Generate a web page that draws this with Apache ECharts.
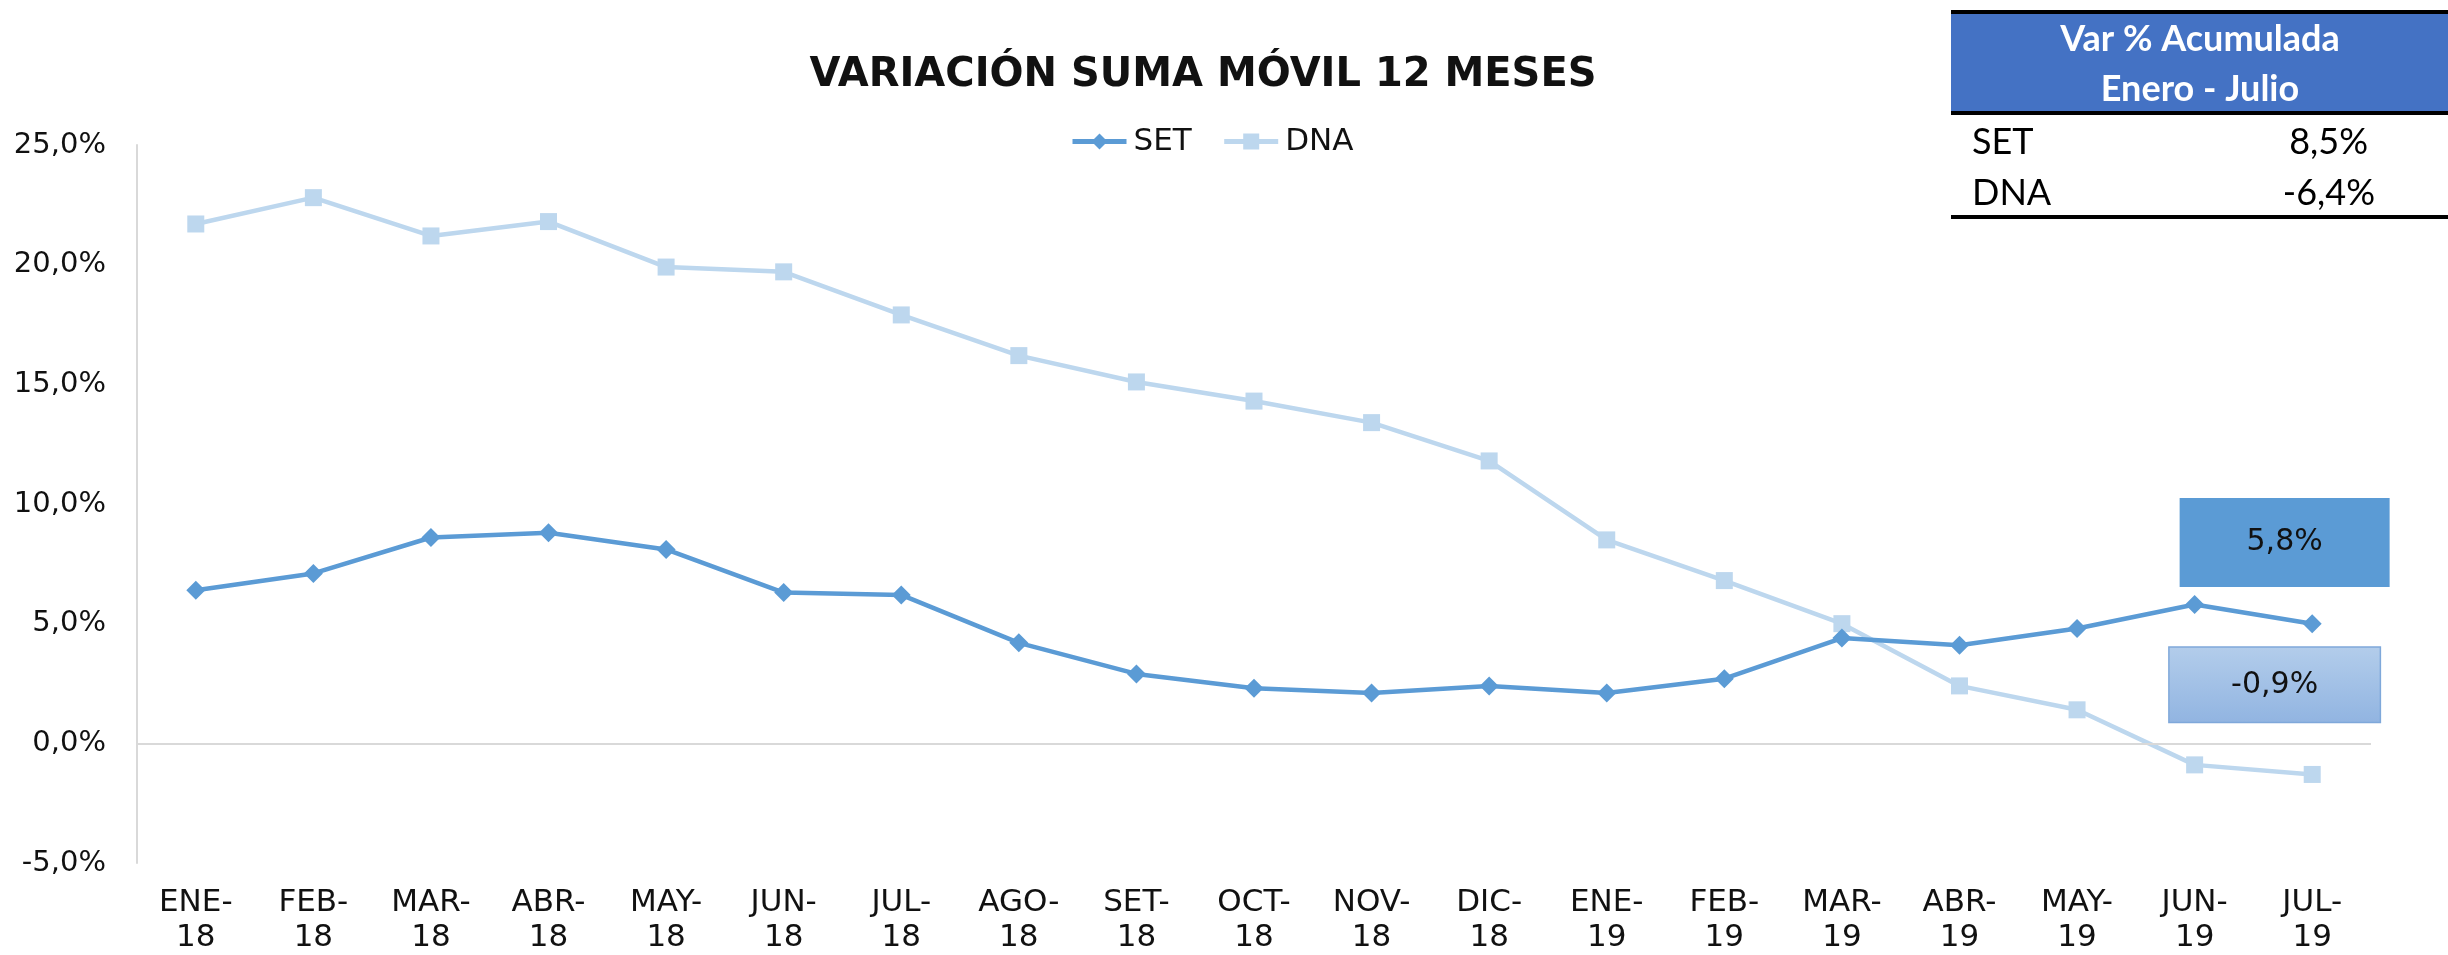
<!DOCTYPE html>
<html>
<head>
<meta charset="utf-8">
<script src="https://cdn.jsdelivr.net/npm/echarts@6/dist/echarts.min.js"></script>
<style>
  html, body { margin: 0; padding: 0; background: #fff; }
  #chart { width: 2448px; height: 955px; }
</style>
</head>
<body>
<div id="chart"></div>
<script>
  var categories = ['ENE-\n18', 'FEB-\n18', 'MAR-\n18', 'ABR-\n18', 'MAY-\n18', 'JUN-\n18', 'JUL-\n18', 'AGO-\n18',
    'SET-\n18', 'OCT-\n18', 'NOV-\n18', 'DIC-\n18', 'ENE-\n19', 'FEB-\n19', 'MAR-\n19', 'ABR-\n19', 'MAY-\n19',
    'JUN-\n19', 'JUL-\n19'];
  var setValues = [6.4, 7.1, 8.6, 8.8, 8.1, 6.3, 6.2, 4.2, 2.9, 2.3, 2.1, 2.4, 2.1, 2.7, 4.4, 4.1, 4.8, 5.8, 5.0];
  var dnaValues = [21.7, 22.8, 21.2, 21.8, 19.9, 19.7, 17.9, 16.2, 15.1, 14.3, 13.4, 11.8, 8.5, 6.8, 5.0, 2.4, 1.4, -0.9, -1.3];
  var labelIndex = 17;
  var tableRows = [['SET', '8,5%'], ['DNA', '-6,4%']];
  var tableTitle = ['Var % Acumulada', 'Enero - Julio'];

  function pct(v) {
    return v.toFixed(1).replace('.', ',') + '%';
  }

  var chart = echarts.init(document.getElementById('chart'));

  var setData = setValues.map(function (v, i) {
    if (i !== labelIndex) return v;
    return {
      value: v,
      label: {
        show: true, position: 'inside', offset: [90, -62],
        formatter: function (p) { return pct(p.value); },
        backgroundColor: '#5B9BD5',
        width: 210, height: 89, lineHeight: 89, padding: 0,
        align: 'center', verticalAlign: 'middle',
        color: '#111', fontSize: 30, fontFamily: 'DejaVu Sans'
      }
    };
  });

  var dnaData = dnaValues.map(function (v, i) {
    if (i !== labelIndex) return v;
    return {
      value: v,
      label: {
        show: true, position: 'inside', offset: [80, -80],
        formatter: function (p) { return pct(p.value); },
        backgroundColor: {
          type: 'linear', x: 0, y: 0, x2: 0, y2: 1,
          colorStops: [{ offset: 0, color: '#B3CDEB' }, { offset: 1, color: '#91B4E1' }]
        },
        borderColor: '#7FA8DA', borderWidth: 1.5,
        width: 210, height: 74, lineHeight: 74, padding: 0,
        align: 'center', verticalAlign: 'middle',
        color: '#111', fontSize: 30, fontFamily: 'DejaVu Sans'
      }
    };
  });

  var option = {
    backgroundColor: '#fff',
    animation: false,
    title: {
      text: 'VARIACIÓN SUMA MÓVIL 12 MESES',
      left: 1198, top: 51, textAlign: 'center',
      textStyle: { fontFamily: 'DejaVu Sans', fontWeight: 'bold', fontSize: 40, color: '#111' }
    },
    legend: {
      data: ['SET', 'DNA'],
      left: 1065, top: 121,
      itemWidth: 54, itemHeight: 20, itemGap: 30,
      lineStyle: { width: 5 },
      textStyle: { fontFamily: 'DejaVu Sans', fontSize: 31, color: '#111', padding: [0, 0, 0, 2] }
    },
    grid: { left: 137, right: 77, top: 145, bottom: 89 },
    xAxis: {
      type: 'category',
      data: categories,
      boundaryGap: true,
      axisLine: { show: false },
      axisTick: { show: false },
      axisLabel: {
        margin: 22, interval: 0, lineHeight: 35,
        fontFamily: 'DejaVu Sans', fontSize: 31, color: '#111'
      }
    },
    yAxis: {
      type: 'value',
      min: -5, max: 25, interval: 5,
      axisLine: { show: true, lineStyle: { color: '#D9D9D9', width: 2 } },
      axisTick: { show: false },
      splitLine: { show: false },
      axisLabel: {
        margin: 31, formatter: pct,
        fontFamily: 'DejaVu Sans', fontSize: 29, color: '#111'
      }
    },
    series: [
      {
        name: 'SET', type: 'line', data: setData,
        symbol: 'diamond', symbolSize: 19,
        itemStyle: { color: '#5B9BD5' },
        lineStyle: { color: '#5B9BD5', width: 4.5 },
        z: 3,
        markLine: {
          silent: true, symbol: 'none',
          label: { show: false },
          lineStyle: { color: '#D9D9D9', width: 2, type: 'solid' },
          data: [{ yAxis: 0 }]
        }
      },
      {
        name: 'DNA', type: 'line', data: dnaData,
        symbol: 'rect', symbolSize: 17,
        itemStyle: { color: '#BDD7EE' },
        lineStyle: { color: '#BDD7EE', width: 4.5 },
        z: 2
      }
    ],
    graphic: [
      { type: 'rect', shape: { x: 1951, y: 14, width: 497, height: 97 }, style: { fill: '#4472C4' } },
      { type: 'rect', shape: { x: 1951, y: 10, width: 497, height: 4 }, style: { fill: '#000' } },
      { type: 'rect', shape: { x: 1951, y: 111, width: 497, height: 4 }, style: { fill: '#000' } },
      { type: 'rect', shape: { x: 1951, y: 215, width: 497, height: 4 }, style: { fill: '#000' } },
      { type: 'text', x: 2200, y: 39, style: { text: tableTitle[0], fill: '#fff', font: 'bold 36px Lato', textAlign: 'center', textVerticalAlign: 'middle' } },
      { type: 'text', x: 2200, y: 89, style: { text: tableTitle[1], fill: '#fff', font: 'bold 36px Lato', textAlign: 'center', textVerticalAlign: 'middle' } },
      { type: 'text', x: 1972, y: 142, style: { text: tableRows[0][0], fill: '#000', font: '36px Lato', textAlign: 'left', textVerticalAlign: 'middle' } },
      { type: 'text', x: 2368, y: 142, style: { text: tableRows[0][1], fill: '#000', font: '36px Lato', textAlign: 'right', textVerticalAlign: 'middle' } },
      { type: 'text', x: 1972, y: 193, style: { text: tableRows[1][0], fill: '#000', font: '36px Lato', textAlign: 'left', textVerticalAlign: 'middle' } },
      { type: 'text', x: 2375, y: 193, style: { text: tableRows[1][1], fill: '#000', font: '36px Lato', textAlign: 'right', textVerticalAlign: 'middle' } }
    ]
  };

  chart.setOption(option);
</script>
</body>
</html>
